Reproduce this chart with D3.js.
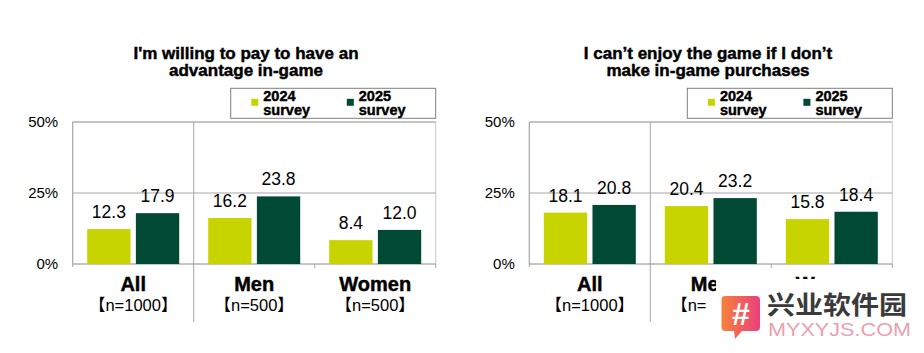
<!DOCTYPE html>
<html>
<head>
<meta charset="utf-8">
<script src="https://cdn.jsdelivr.net/npm/d3@7"></script>
<style>
  html, body { margin: 0; padding: 0; background: #fff; }
  svg { display: block; font-family: "Liberation Sans", Arial, "Noto Sans CJK JP", sans-serif; }
  .heavy { stroke: #000; stroke-width: 0.45px; }
</style>
</head>
<body>
<svg id="chart" width="924" height="353"></svg>
<script>
// survey groups shown along the x axis
const groups = ["All", "Men", "Women"];
const sampleSizes = ["【n=1000】", "【n=500】", "【n=500】"];
const surveys = ["2024 survey", "2025 survey"];
const yTicks = [0, 25, 50];

// "I'm willing to pay to have an advantage in-game" (%)
const payAdvantage2024 = [12.3, 16.2, 8.4];
const payAdvantage2025 = [17.9, 23.8, 12.0];

// "I can't enjoy the game if I don't make in-game purchases" (%)
const cantEnjoy2024 = [18.1, 20.4, 15.8];
const cantEnjoy2025 = [20.8, 23.2, 18.4];

const COLORS = { "2024 survey": "#c8d400", "2025 survey": "#004a33" };
const GRID = "#a6a6a6";

const PLOT = { top: 122, width: 363, height: 142 };

const panels = [
  { left: 72.7, titleX: 246, title: ["I'm willing to pay to have an", "advantage in-game"],
    v2024: payAdvantage2024, v2025: payAdvantage2025 },
  { left: 529.3, titleX: 708, title: ["I can\u2019t enjoy the game if I don\u2019t", "make in-game purchases"],
    v2024: cantEnjoy2024, v2025: cantEnjoy2025 },
];

const svg = d3.select("#chart");
svg.append("rect").attr("width", 924).attr("height", 353).attr("fill", "#fff");

const x = d3.scaleBand().domain(groups).range([0, PLOT.width]);
const xInner = d3.scaleBand().domain(surveys).range([14.5, x.bandwidth() - 14.5]).paddingInner(0.11);
const y = d3.scaleLinear().domain([0, 50]).range([PLOT.height, 0]);

panels.forEach((p) => drawPanel(p));

function drawPanel(p) {
  const g = svg.append("g").attr("transform", `translate(${p.left},${PLOT.top})`);

  // title
  const title = svg.append("text")
    .attr("class", "heavy")
    .attr("x", p.titleX).attr("y", 59)
    .attr("text-anchor", "middle")
    .style("font-size", "17px").style("font-weight", "bold");
  p.title.forEach((line, i) => {
    title.append("tspan").attr("x", p.titleX).attr("dy", i === 0 ? 0 : 17).text(line);
  });

  // legend box
  const lg = svg.append("g").attr("transform", `translate(${p.left + 158},88.3)`);
  lg.append("rect").attr("width", 205).attr("height", 30)
    .attr("fill", "#fff").attr("stroke", "#7f7f7f").attr("stroke-width", 1);
  surveys.forEach((s, i) => {
    const ox = 20.6 + i * 95.5;
    lg.append("rect").attr("x", ox).attr("y", 10.5).attr("width", 7).attr("height", 7)
      .attr("fill", COLORS[s]);
    const t = lg.append("text").attr("class", "heavy").attr("x", ox + 12).attr("y", 12.4)
      .style("font-size", "14.5px").style("font-weight", "bold");
    const parts = s.split(" ");
    t.append("tspan").attr("x", ox + 12).text(parts[0]);
    t.append("tspan").attr("x", ox + 12).attr("dy", 14).text(parts[1]);
  });

  // plot frame and grid
  g.append("rect").attr("width", PLOT.width).attr("height", PLOT.height)
    .attr("fill", "none").attr("stroke", "#c8c8c8");
  g.selectAll("line.grid").data(yTicks).join("line")
    .attr("class", "grid")
    .attr("x1", 0).attr("x2", PLOT.width)
    .attr("y1", (d) => y(d)).attr("y2", (d) => y(d))
    .attr("stroke", GRID);
  g.append("line").attr("x1", 0).attr("x2", 0).attr("y1", 0).attr("y2", PLOT.height + 3)
    .attr("stroke", GRID);

  // divider between All and the gender groups, then a short tick
  g.append("line")
    .attr("x1", x("Men")).attr("x2", x("Men"))
    .attr("y1", 0).attr("y2", PLOT.height + 58)
    .attr("stroke", GRID);
  g.append("line")
    .attr("x1", x("Women")).attr("x2", x("Women"))
    .attr("y1", PLOT.height).attr("y2", PLOT.height + 4)
    .attr("stroke", GRID);
  g.append("line")
    .attr("x1", PLOT.width).attr("x2", PLOT.width)
    .attr("y1", PLOT.height).attr("y2", PLOT.height + 4)
    .attr("stroke", GRID);

  // y tick labels
  g.selectAll("text.ytick").data(yTicks).join("text")
    .attr("class", "ytick")
    .attr("x", -14.5).attr("y", (d) => y(d))
    .attr("dy", "0.36em")
    .attr("text-anchor", "end")
    .style("font-size", "15px")
    .text((d) => `${d}%`);

  // bars
  const rows = groups.flatMap((grp, i) => [
    { grp, survey: surveys[0], v: p.v2024[i] },
    { grp, survey: surveys[1], v: p.v2025[i] },
  ]);
  g.selectAll("rect.bar").data(rows).join("rect")
    .attr("class", "bar")
    .attr("x", (d) => x(d.grp) + xInner(d.survey))
    .attr("width", xInner.bandwidth())
    .attr("y", (d) => y(d.v))
    .attr("height", (d) => y(0) - y(d.v))
    .attr("fill", (d) => COLORS[d.survey]);

  g.selectAll("text.val").data(rows).join("text")
    .attr("class", "val")
    .attr("x", (d) => x(d.grp) + xInner(d.survey) + xInner.bandwidth() / 2)
    .attr("y", (d) => y(d.v) - 11)
    .attr("text-anchor", "middle")
    .style("font-size", "17.5px")
    .text((d) => d.v.toFixed(1));

  // category labels
  g.selectAll("text.cat").data(groups).join("text")
    .attr("class", "cat heavy")
    .attr("x", (d) => x(d) + x.bandwidth() / 2)
    .attr("y", PLOT.height + 27)
    .attr("text-anchor", "middle")
    .style("font-size", "20px").style("font-weight", "bold")
    .text((d) => d);
  g.selectAll("text.n").data(groups).join("text")
    .attr("class", "n")
    .attr("x", (d) => x(d) + x.bandwidth() / 2)
    .attr("y", PLOT.height + 47)
    .attr("text-anchor", "middle")
    .style("font-size", "16.5px")
    .text((d, i) => sampleSizes[i]);
}

// site watermark over the lower right corner
const wm = svg.append("g");
wm.append("rect").attr("x", 716).attr("y", 279).attr("width", 200).attr("height", 60).attr("fill", "#fff");
wm.append("rect").attr("x", 707).attr("y", 297).attr("width", 20).attr("height", 40).attr("fill", "#fff");
const grad = svg.append("defs").append("linearGradient").attr("id", "wmGrad")
  .attr("x1", 0).attr("y1", 0).attr("x2", 1).attr("y2", 0);
grad.append("stop").attr("offset", 0).attr("stop-color", "#f5823a");
grad.append("stop").attr("offset", 1).attr("stop-color", "#ec3f7f");
wm.append("path")
  .attr("d", "M725,296 H756 Q760,296 760,300 V327 Q760,331 756,331 H742 L735,339 L734,331 H725 Q721.5,331 721.5,327 V300 Q721.5,296 725,296 Z")
  .attr("fill", "url(#wmGrad)");
wm.append("text").attr("x", 741).attr("y", 325).attr("text-anchor", "middle")
  .attr("fill", "#fff").style("font-size", "32px").style("font-weight", "bold").text("#");
wm.append("text").attr("x", 767).attr("y", 314)
  .attr("textLength", 140).attr("lengthAdjust", "spacingAndGlyphs")
  .attr("fill", "#3a3a3a")
  .style("font-family", "'Noto Sans CJK SC'").style("font-size", "25px").style("font-weight", "bold")
  .text("兴业软件园");
wm.append("text").attr("x", 768).attr("y", 336)
  .attr("textLength", 143).attr("lengthAdjust", "spacingAndGlyphs")
  .attr("fill", "#eba0ae")
  .style("font-size", "18px")
  .text("MYXYJS.COM");
</script>
</body>
</html>
